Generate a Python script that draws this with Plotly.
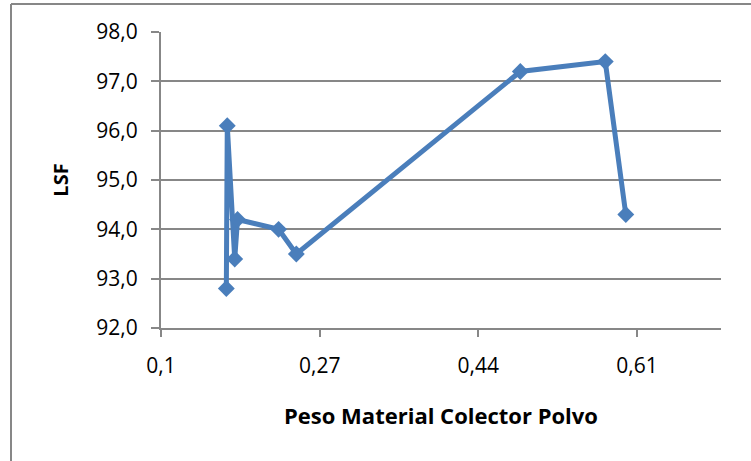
import plotly.graph_objects as go

# Data
peso = [0.170, 0.171, 0.179, 0.182, 0.226, 0.245, 0.485, 0.576, 0.598]
lsf = [92.8, 96.1, 93.4, 94.2, 94.0, 93.5, 97.2, 97.4, 94.3]

x_ticks = [0.1, 0.27, 0.44, 0.61]
x_ticklabels = ["0,1", "0,27", "0,44", "0,61"]
y_ticks = [92, 93, 94, 95, 96, 97, 98]
y_ticklabels = ["92,0", "93,0", "94,0", "95,0", "96,0", "97,0", "98,0"]

x_title = "Peso Material Colector Polvo"
y_title = "LSF"

FONT = "Open Sans"
GRAY = "#878787"
BLUE = "#4a7ebb"

fig = go.Figure()
fig.add_trace(go.Scatter(
    x=peso, y=lsf, mode="lines+markers",
    line=dict(color=BLUE, width=5),
    marker=dict(symbol="diamond", size=13, color=BLUE),
    showlegend=False,
))

fig.update_layout(
    width=751, height=461,
    margin=dict(l=161, r=30, t=32, b=133),
    paper_bgcolor="white", plot_bgcolor="white",
    font=dict(family=FONT, color="black"),
    xaxis=dict(
        range=[0.1, 0.7], tickvals=x_ticks, ticktext=x_ticklabels,
        showgrid=False, zeroline=False,
        showline=True, linecolor=GRAY, linewidth=2,
        ticks="outside", ticklen=7, tickwidth=1.5, tickcolor=GRAY,
        tickfont=dict(size=21, family=FONT), ticklabelstandoff=11,
        title=dict(text=x_title, font=dict(size=22, family=FONT, weight="bold"), standoff=30),
    ),
    yaxis=dict(
        range=[92, 98], tickvals=y_ticks, ticktext=y_ticklabels,
        showgrid=True, gridcolor=GRAY, gridwidth=1.5, zeroline=False,
        showline=True, linecolor=GRAY, linewidth=2,
        ticks="outside", ticklen=8, tickwidth=1.5, tickcolor=GRAY,
        tickfont=dict(size=21, family=FONT), ticklabelstandoff=9,
        title=dict(text=y_title, font=dict(size=20, family=FONT, weight="bold"), standoff=22),
    ),
    shapes=[
        dict(type="line", xref="paper", yref="paper",
             x0=(11 - 161) / 560, x1=(760 - 161) / 560,
             y0=(328 - 4) / 296, y1=(328 - 4) / 296,
             line=dict(color=GRAY, width=2)),
        dict(type="line", xref="paper", yref="paper",
             x0=(11 - 161) / 560, x1=(11 - 161) / 560,
             y0=(328 - 4) / 296, y1=(328 - 470) / 296,
             line=dict(color=GRAY, width=2)),
    ],
)

fig.write_html("out.html")
